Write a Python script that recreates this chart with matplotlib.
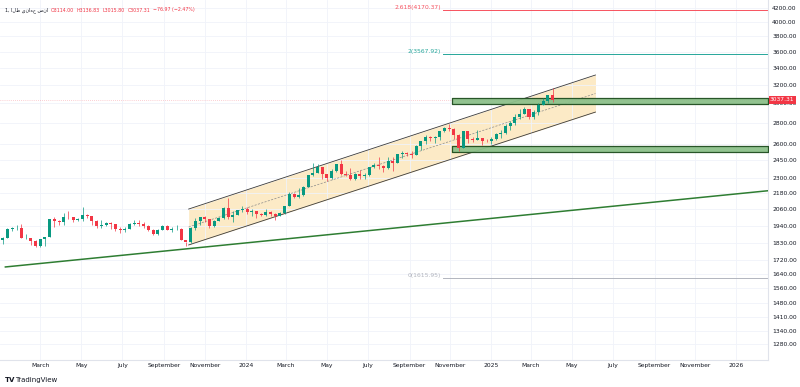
import matplotlib
matplotlib.use("Agg")
import matplotlib.pyplot as plt
import matplotlib.dates as mdates
import matplotlib.ticker as mticker
import numpy as np
import pandas as pd

# weekly candles (close / high / low), XAUUSD
closes_2023 = [1865, 1920, 1926, 1928, 1865, 1865, 1842, 1811, 1856, 1868, 1989, 1978, 1969,
               2007, 2004, 1983, 1990, 2017, 2011, 1977, 1946, 1948, 1961, 1958, 1921, 1919,
               1925, 1955, 1962, 1959, 1943, 1914, 1889, 1915, 1940, 1919, 1924, 1925, 1849,
               1833, 1932, 1981, 2006, 1993, 1940, 1981, 2002, 2072, 2005, 2020, 2053, 2063]
highs_2023 = [1870, 1930, 1937, 1949, 1960, 1890, 1860, 1846, 1858, 1870, 1990, 2009, 1988,
              2032, 2048, 2007, 2000, 2081, 2029, 1990, 1985, 1983, 1973, 1971, 1959, 1934,
              1935, 1961, 1987, 1983, 1970, 1948, 1921, 1922, 1953, 1953, 1933, 1947, 1930,
              1836, 1934, 1997, 2009, 2010, 1994, 1987, 2007, 2075, 2145, 2048, 2054, 2088]
lows_2023 = [1824, 1865, 1911, 1916, 1861, 1853, 1818, 1805, 1804, 1810, 1867, 1934, 1950,
             1950, 1995, 1969, 1975, 1978, 1999, 1952, 1932, 1932, 1940, 1924, 1912, 1893,
             1902, 1925, 1952, 1942, 1930, 1912, 1885, 1884, 1914, 1915, 1901, 1913, 1846,
             1810, 1830, 1917, 1953, 1970, 1931, 1933, 1975, 1993, 1991, 1973, 2017, 2040]
closes_2024 = [2045, 2049, 2029, 2018, 2039, 2024, 2013, 2035, 2083, 2179, 2155, 2165, 2233,
               2330, 2344, 2391, 2337, 2301, 2360, 2415, 2334, 2327, 2294, 2333, 2321, 2326,
               2392, 2411, 2400, 2387, 2443, 2431, 2507, 2512, 2503, 2497, 2577, 2622, 2658,
               2653, 2657, 2721, 2747, 2736, 2685, 2563, 2715, 2643, 2633, 2648, 2622, 2621]
highs_2024 = [2078, 2062, 2042, 2036, 2065, 2051, 2032, 2041, 2088, 2195, 2186, 2223, 2236,
              2331, 2432, 2418, 2353, 2326, 2378, 2422, 2450, 2364, 2388, 2340, 2368, 2340,
              2392, 2424, 2483, 2409, 2477, 2477, 2509, 2531, 2525, 2529, 2585, 2625, 2685,
              2672, 2668, 2723, 2758, 2790, 2749, 2694, 2721, 2722, 2665, 2726, 2651, 2639]
lows_2024 = [2024, 2013, 2001, 2010, 2016, 2015, 1984, 2010, 2025, 2083, 2146, 2146, 2164,
             2228, 2319, 2342, 2291, 2277, 2294, 2355, 2325, 2321, 2286, 2287, 2295, 2293,
             2319, 2383, 2380, 2353, 2378, 2364, 2425, 2470, 2491, 2471, 2500, 2546, 2600,
             2624, 2603, 2636, 2708, 2722, 2643, 2537, 2563, 2605, 2613, 2631, 2583, 2614]
closes_2025 = [2640, 2690, 2703, 2770, 2800, 2861, 2883, 2936, 2858, 2910, 2984, 3023, 3085, 3037]
highs_2025 = [2665, 2697, 2726, 2786, 2817, 2886, 2942, 2955, 2939, 2930, 3005, 3057, 3087, 3167]
lows_2025 = [2597, 2635, 2656, 2691, 2731, 2774, 2832, 2888, 2833, 2832, 2880, 2982, 3000, 3016]
first_open = 1852
first_week = "2023-01-04"

# drawings
channel_dates = ["2023-10-08", "2025-06-05"]
channel_upper = [2063, 3314]
channel_lower = [1817, 2907]
trend_dates = ["2023-01-08", "2026-02-17"]
trend_prices = [1681, 2201]
zone_start = "2024-11-03"
zones = [(2988, 3052), (2521, 2581)]
fib_start = "2024-10-21"
fib_levels = [("0", 1615.95, "#b2b5be"), ("2", 3567.92, "#26a69a"), ("2.618", 4170.37, "#f7525f")]
last_price = 3037.31

price_ticks = [4200, 4000, 3800, 3600, 3400, 3200, 3000, 2800, 2600, 2450, 2300, 2180, 2060,
               1940, 1830, 1720, 1640, 1560, 1480, 1410, 1340, 1280]
time_ticks = pd.date_range("2023-03-01", "2026-01-01", freq="2MS")

title_fa = "انس جهانی طلا"
ohlc = ["O3114.00", "H3136.83", "L3015.80", "C3037.31", "\u221276.97 (\u22122.47%)"]

UP = "#089981"
DOWN = "#f23645"
TXT = "#131722"

closes = closes_2023 + closes_2024 + closes_2025
highs = highs_2023 + highs_2024 + highs_2025
lows = lows_2023 + lows_2024 + lows_2025
opens = [first_open] + closes[:-1]
dates = pd.date_range(first_week, periods=len(closes), freq="7D")

fig = plt.figure(figsize=(8, 3.87), dpi=100)
ax = fig.add_axes([0, 27 / 387, 768 / 800, 360 / 387])
ax.set_yscale("log")
ax.set_ylim(1209.7, 4320.6)
x_left = pd.Timestamp("2022-12-31")
x_right = pd.Timestamp("2026-02-17")
ax.set_xlim(x_left, x_right)

# grid / axes
ax.yaxis.set_major_locator(mticker.FixedLocator(price_ticks))
ax.yaxis.set_minor_locator(mticker.NullLocator())
ax.yaxis.set_major_formatter(mticker.FuncFormatter(lambda v, p: f"{v:.2f}"))
ax.set_xticks(time_ticks)
ax.set_xticklabels([str(t.year) if t.month == 1 else t.strftime("%B") for t in time_ticks])
ax.grid(True, color="#f0f3fa", lw=0.6, zorder=0)
ax.yaxis.tick_right()
ax.tick_params(axis="both", length=0, labelsize=4.3, labelcolor=TXT)
ax.tick_params(axis="y", pad=3)
ax.tick_params(axis="x", pad=2.5)
for s in ["top", "left"]:
    ax.spines[s].set_visible(False)
for s in ["right", "bottom"]:
    ax.spines[s].set_color("#e0e3eb")
    ax.spines[s].set_linewidth(0.8)

# channel
cd = pd.to_datetime(channel_dates)
ax.fill_between(cd, channel_lower, channel_upper, color="#fce8c0", alpha=0.9, lw=0, zorder=1)
ax.plot(cd, channel_upper, color="#3a3a3a", lw=0.6, zorder=2)
ax.plot(cd, channel_lower, color="#3a3a3a", lw=0.6, zorder=2)
mid = [np.sqrt(a * b) for a, b in zip(channel_upper, channel_lower)]
ax.plot(cd, mid, color="#8a8a8a", lw=0.5, ls=(0, (3, 2)), zorder=2)

# long trend line
ax.plot(pd.to_datetime(trend_dates), trend_prices, color="#2e7d32", lw=1.1, zorder=3)

# zones
zs = pd.Timestamp(zone_start)
for lo, hi in zones:
    ax.fill_between([zs, x_right], [lo, lo], [hi, hi], facecolor="#8cc08a", edgecolor="#1f4d1f",
                    lw=0.9, alpha=0.95, zorder=4)

# fib levels
fs = pd.Timestamp(fib_start)
for name, lvl, col in fib_levels:
    ax.plot([fs, x_right], [lvl, lvl], color=col, lw=0.7, zorder=2)
    ax.text(fs - pd.Timedelta(days=3), lvl, f"{name}({lvl:.2f})", color=col, fontsize=4.3,
            ha="right", va="bottom", zorder=5)

# candles
for d, o, h, l, c in zip(dates, opens, highs, lows, closes):
    col = UP if c >= o else DOWN
    ax.vlines(d, l, h, color=col, lw=0.5, zorder=6)
    ax.bar(d, abs(c - o) if c != o else 0.5, bottom=min(o, c), width=4.5, color=col, lw=0, zorder=6)

# last price line + label
ax.axhline(last_price, color=DOWN, lw=0.5, ls=(0, (1, 2)), alpha=0.45, zorder=2)
yf = ax.transData.transform((mdates.date2num(x_right), last_price))[1] / fig.bbox.height
fig.text(770 / 800, yf, "3037.31", fontsize=4.3, color="white", va="center", ha="left",
         bbox=dict(boxstyle="square,pad=0.25", fc=DOWN, ec="none"))

# header, laid out left to right
renderer = fig.canvas.get_renderer()
hy = 1 - 10 / 387
x = 5
t = fig.text(x / 800, hy, "1, " + title_fa[::-1], fontsize=3.4, color=TXT, va="center",
             family=["DejaVu Sans"])
x += t.get_window_extent(renderer).width + 3
for s in ohlc:
    t = fig.text(x / 800, hy, s, fontsize=3.4, color=DOWN, va="center")
    x += t.get_window_extent(renderer).width + 2.5

fig.text(5 / 800, 1 - 380 / 387, "TV", fontsize=5, color=TXT, fontweight="bold", va="center")
fig.text(15 / 800, 1 - 380 / 387, "TradingView", fontsize=5, color=TXT, va="center")

fig.savefig("out.png", dpi=100, facecolor="white")
